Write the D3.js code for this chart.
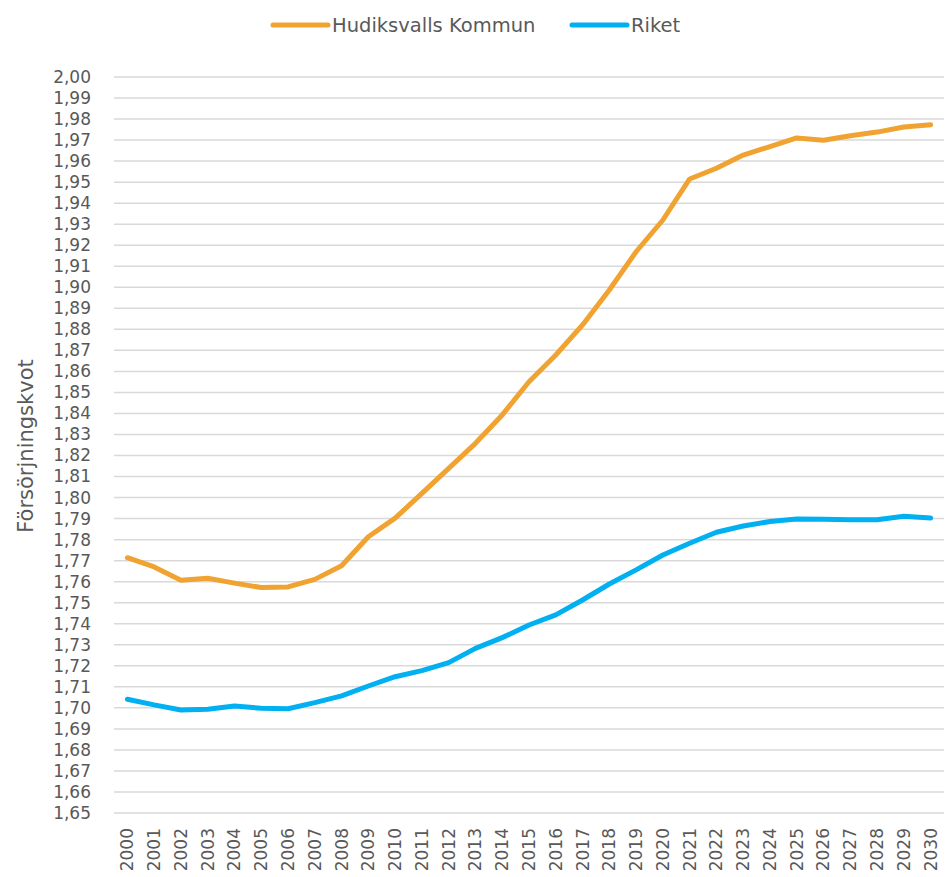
<!DOCTYPE html>
<html>
<head>
<meta charset="utf-8">
<script src="https://cdn.jsdelivr.net/npm/d3@7"></script>
<style>
  body { margin: 0; background: #fff; }
  svg text { font-family: "DejaVu Sans", sans-serif; fill: #595959; }
</style>
</head>
<body>
<svg id="chart" width="946" height="877"></svg>
<script>
var years = d3.range(2000, 2031).map(String);
var hudiksvall = [1.7714, 1.7670, 1.7607, 1.7616, 1.7593, 1.7572, 1.7575, 1.7611, 1.7676, 1.7814,
                  1.7902, 1.8020, 1.8139, 1.8258, 1.8393, 1.8551, 1.8678, 1.8821, 1.8987, 1.9169,
                  1.9320, 1.9515, 1.9566, 1.9629, 1.9669, 1.9710, 1.9699, 1.9721, 1.9738, 1.9762, 1.9773];
var riket = [1.7041, 1.7014, 1.6990, 1.6993, 1.7009, 1.6998, 1.6996, 1.7025, 1.7057, 1.7104,
             1.7148, 1.7177, 1.7215, 1.7283, 1.7334, 1.7394, 1.7442, 1.7513, 1.7589, 1.7656,
             1.7727, 1.7783, 1.7835, 1.7865, 1.7886, 1.7898, 1.7897, 1.7895, 1.7895, 1.7911, 1.7903];
var yTicks = d3.range(0, 36).map(function(i){ return +(1.65 + i * 0.01).toFixed(2); });
var seriesNames = ["Hudiksvalls Kommun", "Riket"];
var seriesColors = ["#F0A330", "#00B0F0"];

var svg = d3.select("#chart"),
    margin = {top: 77, right: 2, bottom: 64, left: 114},
    width = 946 - margin.left - margin.right,
    height = 877 - margin.top - margin.bottom;

var x = d3.scaleBand().domain(years).range([0, width]);
var y = d3.scaleLinear().domain([1.65, 2.00]).range([height, 0]);

var g = svg.append("g")
    .attr("transform", "translate(" + margin.left + "," + margin.top + ")");

// gridlines
g.append("g")
    .selectAll("line")
    .data(yTicks)
    .enter().append("line")
        .attr("x1", 0)
        .attr("x2", width)
        .attr("y1", function(d){ return y(d); })
        .attr("y2", function(d){ return y(d); })
        .attr("stroke", "#D9D9D9")
        .attr("stroke-width", 1.5);

// y axis
var fmt = function(d){ return d.toFixed(2).replace(".", ","); };
var yAxis = g.append("g")
    .call(d3.axisLeft(y).tickValues(yTicks).tickFormat(fmt).tickSize(0).tickPadding(23));
yAxis.select(".domain").remove();
yAxis.selectAll("text")
    .style("font-family", "DejaVu Sans, sans-serif")
    .style("font-size", "17px")
    .attr("fill", "#595959");

// x axis
var xAxis = g.append("g")
    .attr("transform", "translate(0," + height + ")")
    .call(d3.axisBottom(x).tickSize(0));
xAxis.select(".domain").remove();
xAxis.selectAll("text")
    .style("font-family", "DejaVu Sans, sans-serif")
    .style("font-size", "17px")
    .attr("fill", "#595959")
    .attr("transform", "rotate(-90)")
    .attr("text-anchor", "end")
    .attr("x", -15)
    .attr("y", 0)
    .attr("dy", "0.35em");

// y title
svg.append("text")
    .attr("transform", "translate(33,446) rotate(-90)")
    .attr("text-anchor", "middle")
    .style("font-size", "21px")
    .text("Försörjningskvot");

// lines
var line = d3.line()
    .x(function(d, i){ return x(years[i]) + x.bandwidth() / 2; })
    .y(function(d){ return y(d); });

[hudiksvall, riket].forEach(function(data, k){
    g.append("path")
        .datum(data)
        .attr("fill", "none")
        .attr("stroke", seriesColors[k])
        .attr("stroke-width", 5)
        .attr("stroke-linejoin", "round")
        .attr("stroke-linecap", "round")
        .attr("d", line);
});

// legend
var legendX = [273, 572];
var legend = svg.append("g");
seriesNames.forEach(function(name, k){
    legend.append("line")
        .attr("x1", legendX[k]).attr("x2", legendX[k] + 55)
        .attr("y1", 25).attr("y2", 25)
        .attr("stroke", seriesColors[k])
        .attr("stroke-width", 5)
        .attr("stroke-linecap", "round");
    legend.append("text")
        .attr("x", legendX[k] + 59)
        .attr("y", 25)
        .attr("dy", "0.35em")
        .style("font-size", "19.5px")
        .text(name);
});
</script>
</body>
</html>
